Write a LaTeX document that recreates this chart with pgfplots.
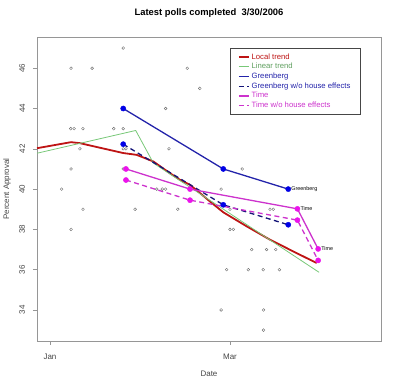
\documentclass[border=0pt]{standalone}
\usepackage{fontspec}
\setmainfont{Liberation Sans}
\usepackage{pgfplots}
\pgfplotsset{compat=1.18}
\definecolor{framegray}{RGB}{150,150,150}
\definecolor{labgray}{RGB}{70,70,70}
\definecolor{ptgray}{RGB}{110,110,110}
\definecolor{ltrend}{RGB}{190,20,20}
\definecolor{lintrend}{RGB}{120,200,120}
\definecolor{gblue}{RGB}{35,35,170}
\definecolor{gdash}{RGB}{20,20,120}
\definecolor{dotblue}{RGB}{0,0,230}
\definecolor{tmag}{RGB}{205,50,205}
\definecolor{dotmag}{RGB}{235,20,235}
\begin{document}
\begin{tikzpicture}[x=1pt,y=1pt]
\useasboundingbox (-37,-47) rectangle (363,341);
\begin{axis}[
  at={(0,0)}, anchor=south west, scale only axis,
  width=344pt, height=304pt,
  xmin=-4.26, xmax=108.5, ymin=32.46, ymax=47.55,
  axis line style={draw=framegray, line width=0.8pt},
  tick style={draw=framegray, line width=0.6pt},
  tick align=outside, tick pos=left, major tick length=4pt,
  xtick={0,59}, xticklabels={Jan,Mar},
  ytick={34,36,38,40,42,44,46},
  ticklabel style={font=\fontsize{8}{9}\selectfont, text=labgray},
  xticklabel style={yshift=-5.6pt},
  yticklabel style={xshift=-4.4pt, rotate=90, anchor=south},
  /pgf/number format/assume math mode=true,
  title={\textbf{Latest polls completed\ \ 3/30/2006}},
  title style={at={(axis description cs:0.5,1.0576)}, anchor=center, font=\fontsize{9.4}{11}\selectfont},
  xlabel={Date},
  xlabel style={at={(axis description cs:0.5,-0.1086)}, anchor=center, font=\fontsize{8}{9}\selectfont, text=labgray},
  ylabel={Percent Approval},
  ylabel style={at={(axis description cs:-0.0872,0.5)}, anchor=center, font=\fontsize{8}{9}\selectfont, text=labgray},
  legend style={at={(0.941,0.9628)}, anchor=north east, draw=labgray, line width=0.6pt, fill=white,
     font=\fontsize{7.7}{8}\selectfont, inner xsep=8pt, inner ysep=3pt, row sep=-1.4pt},
  legend cell align=left,
  legend image code/.code={\draw[#1] (0pt,0pt) -- (10pt,0pt);},
]
% individual polls
\addplot[only marks, mark=o, mark size=1.4pt, mark options={draw=ptgray, line width=0.4pt}, forget plot]
 coordinates {(24.0,47)(6.9,46)(13.8,46)(45.0,46)(49.1,45)(37.9,44)(6.8,43)(7.9,43)(10.8,43)(20.9,43)(24.0,43)
 (9.8,42)(24.0,42)(24.9,42)(39.0,42)(6.9,41)(24.0,41)(63.0,41)(3.8,40)(35.0,40)(36.8,40)(37.9,40)(56.1,40)
 (10.8,39)(27.9,39)(41.9,39)(59.0,39)(72.1,39)(73.2,39)(6.9,38)(59.0,38)(60.1,38)(66.1,37)(71.0,37)(74.0,37)
 (57.9,36)(65.0,36)(69.9,36)(75.2,36)(56.1,34)(70.0,34)(70.0,33)};
% Local trend
\addplot[ltrend, line width=1.8pt, no marks] coordinates {(-4.26,42.03)(6.9,42.33)(9.8,42.28)(24.0,41.79)(28.4,41.70)
 (33.9,41.37)(39.3,40.79)(42.6,40.46)(45.9,40.21)(49.2,39.80)(52.4,39.39)(56.8,38.85)(64.5,38.15)(72.1,37.49)(79.7,36.91)(87.4,36.33)};
\addlegendentry{\textcolor{ltrend}{Local trend}}
% Linear trend
\addplot[lintrend, line width=0.8pt, no marks] coordinates {(-4.26,41.78)(28.1,42.91)(33.9,41.29)(88.2,35.87)};
\addlegendentry{\textcolor{lintrend!80!black}{Linear trend}}
% Greenberg
\addplot[gblue, line width=1.3pt, no marks] coordinates {(24.0,44.0)(56.8,41.0)(78.1,40.0)};
\addlegendentry{\textcolor{gblue}{Greenberg}}
\addplot[gdash, line width=1.3pt, no marks, dash pattern=on 5pt off 3.5pt] coordinates {(24.0,42.23)(56.8,39.22)(78.1,38.23)};
\addlegendentry{\textcolor{gblue}{Greenberg w/o house effects}}
% Time
\addplot[tmag, line width=1.3pt, no marks] coordinates {(24.9,41.0)(45.9,40.0)(81.1,39.02)(87.9,37.03)};
\addlegendentry{\textcolor{tmag}{Time}}
\addplot[tmag, line width=1.3pt, no marks, dash pattern=on 5pt off 3.5pt] coordinates {(24.9,40.45)(45.9,39.45)(81.1,38.46)(87.9,36.46)};
\addlegendentry{\textcolor{tmag}{Time w/o house effects}}
% dots
\addplot[only marks, mark=*, mark size=2.6pt, color=dotblue, forget plot] coordinates {(24.0,44.0)(56.8,41.0)(78.1,40.0)(24.0,42.23)(56.8,39.22)(78.1,38.23)};
\addplot[only marks, mark=*, mark size=2.6pt, color=dotmag, forget plot] coordinates {(24.9,41.0)(45.9,40.0)(81.1,39.02)(87.9,37.03)(24.9,40.45)(45.9,39.45)(81.1,38.46)(87.9,36.46)};
\node[anchor=west, font=\fontsize{5.4}{6}\selectfont, inner sep=0pt, xshift=3pt] at (axis cs:78.1,40.0) {Greenberg};
\node[anchor=west, font=\fontsize{5.4}{6}\selectfont, inner sep=0pt, xshift=3pt] at (axis cs:81.1,39.02) {Time};
\node[anchor=west, font=\fontsize{5.4}{6}\selectfont, inner sep=0pt, xshift=3pt] at (axis cs:87.9,37.03) {Time};
\end{axis}
\end{tikzpicture}
\end{document}
